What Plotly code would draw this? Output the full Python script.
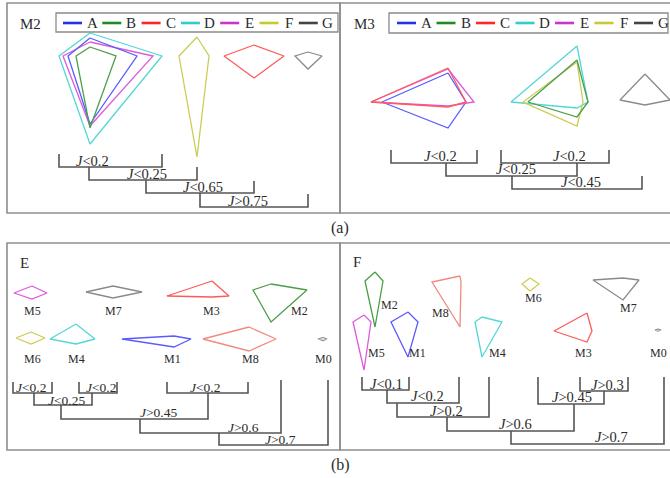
import plotly.graph_objects as go

# ---------------- data ----------------
series = ["A", "B", "C", "D", "E", "F", "G"]
models = ["M0", "M1", "M2", "M3", "M4", "M5", "M6", "M7", "M8"]

# star-glyph spoke lengths, order: up, right, down, left
m2_spokes = {
    "A": [18, 47, 68, 22], "B": [9, 26, 72, 14], "C": [11, 30, 22, 30],
    "D": [23, 72, 88, 31], "E": [14, 63, 70, 27], "F": [19, 12, 101, 18],
    "G": [4, 14, 13, 13],
}
m3_spokes = {
    "A": [29, 18, 26, 66], "B": [42, 11, 15, 49], "C": [34, 18, 5, 77],
    "D": [56, 11, 6, 66], "E": [33, 26, 4, 77], "F": [40, 6, 24, 54],
    "G": [26, 25, 5, 25],
}
e_spokes = {
    "M0": [1.5, 4, 1.5, 5], "M1": [3, 17, 8, 52], "M2": [6, 36, 32, 18],
    "M3": [15, 17, 1, 45], "M4": [15, 19, 5, 26], "M5": [7, 15, 6, 18],
    "M6": [6, 14, 6, 15], "M7": [6, 29, 6, 27], "M8": [12, 27, 12, 46],
}
f_spokes = {
    "M0": [1, 3, 1, 3], "M1": [10, 10, 35, 17], "M2": [9, 8, 46, 10],
    "M3": [18, 5, 11, 33], "M4": [5, 20, 35, 7], "M5": [7, 7, 48, 11],
    "M6": [6, 9, 7, 8], "M7": [2, 16, 20, 30], "M8": [6, 1, 45, 28],
}

# cluster-merge thresholds on the Jaccard index
m2_ops, m2_vals = ["<", "<", "<", ">"], ["0.2", "0.25", "0.65", "0.75"]
m3_ops, m3_vals = ["<", "<", "<", "<"], ["0.2", "0.2", "0.25", "0.45"]
e_ops, e_vals = ["<", "<", "<", "<", ">", ">", ">"], ["0.2", "0.2", "0.25", "0.2", "0.45", "0.6", "0.7"]
f_ops, f_vals = ["<", "<", ">", ">", ">", ">", ">"], ["0.1", "0.2", "0.2", "0.3", "0.45", "0.6", "0.7"]

# ---------------- styling / layout ----------------
W, H = 670, 478
FONT = "Liberation Serif, Times New Roman, serif"
TXT = "#2b2b2b"
TREE = "#555555"
FRAME = "#8e8e8e"

legend_colors = {"A": "#2233e8", "B": "#228a22", "C": "#ff2626", "D": "#33cccc",
                 "E": "#cc33cc", "F": "#c8c833", "G": "#444444"}
glyph_colors = {"A": "#5a5aff", "B": "#4a9e4a", "C": "#ff5a5a", "D": "#55d6d6",
                "E": "#dd5add", "F": "#cccc55", "G": "#8a8a8a"}
model_colors = {"M0": "#8a8a8a", "M1": "#5a5aff", "M2": "#4a9e4a", "M3": "#ff5a5a",
                "M4": "#55d6d6", "M5": "#dd5add", "M6": "#cccc55", "M7": "#8a8a8a",
                "M8": "#f08a80"}

m2_centers = {"A": (90, 56), "B": (90, 56), "C": (254, 56), "D": (90, 56),
              "E": (90, 56), "F": (197, 56), "G": (308, 56)}
m3_centers = {"A": (448, 102), "B": (577, 102), "C": (448, 102), "D": (577, 102),
              "E": (448, 102), "F": (577, 102), "G": (645, 100)}
e_centers = {"M0": (323, 339), "M1": (174, 339), "M2": (271, 290), "M3": (212, 296),
             "M4": (76, 339), "M5": (32, 293), "M6": (31, 338), "M7": (113, 292),
             "M8": (249, 339)}
f_centers = {"M0": (658, 330), "M1": (408, 322), "M2": (375, 281), "M3": (587, 331),
             "M4": (482, 322), "M5": (364, 322), "M6": (530, 284), "M7": (623, 280),
             "M8": (460, 282)}
e_label_pos = {"M0": (323, 359), "M1": (172, 359), "M2": (299, 311), "M3": (211, 311),
               "M4": (76, 359), "M5": (32, 311), "M6": (32, 359), "M7": (113, 311),
               "M8": (250, 359)}
f_label_pos = {"M0": (658, 353), "M1": (417, 353), "M2": (389, 305), "M3": (583, 353),
               "M4": (497, 353), "M5": (376, 353), "M6": (533, 298), "M7": (628, 308),
               "M8": (440, 313)}

# brackets: (x_left, y_left_top, x_right, y_right_top, y_join, label_x, label_y)
m2_tree = [(59, 154, 162, 154, 167, 92, 161), (89, 167, 197, 167, 180, 147, 174),
           (146, 180, 254, 181, 193, 203, 187), (200, 193, 308, 194, 207, 248, 201)]
m3_tree = [(391, 150, 477, 150, 163, 440, 156), (501, 150, 609, 150, 163, 569, 156),
           (446, 163, 577, 163, 176, 516, 169), (512, 176, 642, 176, 189, 581, 182)]
e_tree = [(13, 382, 52, 382, 393, 31, 387), (79, 382, 117, 382, 393, 101, 387),
          (34, 393, 92, 393, 405, 66, 400), (167, 382, 248, 382, 393, 205, 387),
          (61, 405, 208, 393, 419, 158, 412), (140, 419, 281, 380, 433, 243, 427),
          (219, 433, 328, 380, 445, 280, 439)]
f_tree = [(362, 377, 409, 377, 390, 386, 384), (387, 390, 459, 377, 403, 427, 396),
          (397, 403, 489, 377, 417, 446, 411), (580, 377, 628, 377, 391, 607, 385),
          (538, 377, 604, 391, 404, 572, 397), (447, 417, 574, 404, 431, 515, 424),
          (511, 431, 664, 377, 444, 611, 437)]

fig = go.Figure()
annotations = []


def text(x, y, s, size=13, anchor="center"):
    annotations.append(dict(x=x, y=y, xref="x", yref="y", text=s, showarrow=False,
                            xanchor=anchor, yanchor="middle",
                            font=dict(family=FONT, size=size, color=TXT)))


def line(xs, ys, color, width):
    fig.add_trace(go.Scatter(x=xs, y=ys, mode="lines", hoverinfo="skip",
                             showlegend=False,
                             line=dict(color=color, width=width)))


def glyph(center, spokes, color):
    cx, cy = center
    up, right, down, left = spokes
    xs = [cx, cx + right, cx, cx - left, cx]
    ys = [cy - up, cy, cy + down, cy, cy - up]
    line(xs, ys, color, 1.3)


def tree(brackets, ops, vals, size=14.5):
    for (xl, ytl, xr, ytr, yj, lx, ly), op, v in zip(brackets, ops, vals):
        line([xl, xl, xr, xr], [ytl, yj, yj, ytr], TREE, 1.6)
        sym = "&lt;" if op == "<" else "&gt;"
        text(lx, ly, "<i>J</i>" + sym + v, size=size)


def legend_row(x0, y, step):
    for i, s in enumerate(series):
        xs = x0 + i * step
        line([xs, xs + 19], [y, y], legend_colors[s], 2.6)
        text(xs + 29, y, s, size=15)


# panel frames
shapes = []
for (x0, y0, x1, y1) in [(7, 3, 340, 213), (340, 3, 672, 213),
                         (7, 243, 340, 450), (340, 243, 672, 450)]:
    shapes.append(dict(type="rect", xref="x", yref="y", x0=x0, y0=y0, x1=x1, y1=y1,
                       line=dict(color=FRAME, width=1.6), layer="below"))
# legend boxes
for (x0, y0, x1, y1) in [(56, 13, 338, 32), (389, 13, 668, 33)]:
    shapes.append(dict(type="rect", xref="x", yref="y", x0=x0, y0=y0, x1=x1, y1=y1,
                       line=dict(color="#8a8a8a", width=1.3)))

# panel (a): M2
text(30, 24, "M2", size=15)
legend_row(63, 23, 39.3)
for s in ["D", "E", "A", "B", "F", "C", "G"]:
    glyph(m2_centers[s], m2_spokes[s], glyph_colors[s])
tree(m2_tree, m2_ops, m2_vals)

# panel (a): M3
text(364, 24, "M3", size=15)
legend_row(397, 23, 39.5)
for s in ["D", "F", "B", "A", "E", "C", "G"]:
    glyph(m3_centers[s], m3_spokes[s], glyph_colors[s])
tree(m3_tree, m3_ops, m3_vals)

# panel (b): E
text(24, 263, "E", size=15)
for m in models:
    glyph(e_centers[m], e_spokes[m], model_colors[m])
    text(*e_label_pos[m], m, size=12)
tree(e_tree, e_ops, e_vals, size=13.5)

# panel (b): F
text(357, 262, "F", size=15)
for m in models:
    glyph(f_centers[m], f_spokes[m], model_colors[m])
    text(*f_label_pos[m], m, size=12)
tree(f_tree, f_ops, f_vals)

# captions
text(340, 228, "(a)", size=16)
text(340, 465, "(b)", size=16)

fig.update_layout(
    width=W, height=H, margin=dict(l=0, r=0, t=0, b=0),
    paper_bgcolor="white", plot_bgcolor="white",
    xaxis=dict(range=[0, W], visible=False, fixedrange=True),
    yaxis=dict(range=[H, 0], visible=False, fixedrange=True),
    shapes=shapes, annotations=annotations, showlegend=False,
)
fig.write_html("out.html")
